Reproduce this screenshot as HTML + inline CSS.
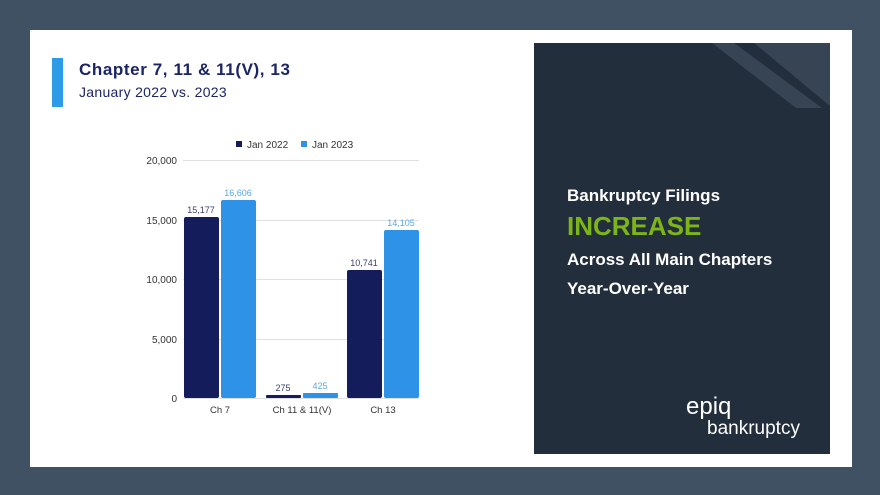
<!DOCTYPE html>
<html><head><style>
body{margin:0;width:880px;height:495px;background:#3f5163;overflow:hidden;font-family:"Liberation Sans",sans-serif;position:relative}
.card{position:absolute;left:30px;top:30px;width:822px;height:437px;background:#fff}
.panel{position:absolute;left:534px;top:43px;width:296px;height:411px;background:#232e3c;overflow:hidden}
.t{position:absolute;color:#fff;font-weight:bold}
</style></head><body>
<div class="card"></div>
<div style="position:absolute;left:52px;top:58px;width:11px;height:49px;background:#2e9be6"></div>
<div style="position:absolute;left:79px;top:60px;font-size:17px;font-weight:bold;color:#1b2466;letter-spacing:0.6px">Chapter 7, 11 &amp; 11(V), 13</div>
<div style="position:absolute;left:79px;top:84px;font-size:14px;color:#1b2466;letter-spacing:0.3px">January 2022 vs. 2023</div>
<svg style="position:absolute;left:0;top:0" width="534" height="495" font-family="Liberation Sans, sans-serif">
<rect x="236" y="141" width="6" height="6" fill="#141c5c"/><text x="247" y="148" font-size="10" fill="#333">Jan 2022</text>
<rect x="301" y="141" width="6" height="6" fill="#2e93e6"/><text x="312" y="148" font-size="10" fill="#333">Jan 2023</text>
<g stroke="#e0e0e0" stroke-width="1">
<line x1="183" x2="419" y1="160.5" y2="160.5"/><line x1="183" x2="419" y1="220.5" y2="220.5"/><line x1="183" x2="419" y1="279.5" y2="279.5"/><line x1="183" x2="419" y1="339.5" y2="339.5"/><line x1="183" x2="419" y1="398.5" y2="398.5"/></g>
<g font-size="10" fill="#333" text-anchor="end">
<text x="177" y="164">20,000</text><text x="177" y="224">15,000</text><text x="177" y="283">10,000</text><text x="177" y="343">5,000</text><text x="177" y="402">0</text></g>
<g fill="#141c5c"><rect x="184" y="217" width="35" height="181" rx="2"/><rect x="266" y="395" width="35" height="3" rx="1"/><rect x="347" y="270" width="35" height="128" rx="2"/></g>
<g fill="#2e93e6"><rect x="221" y="200" width="35" height="198" rx="2"/><rect x="303" y="393" width="35" height="5" rx="1"/><rect x="384" y="230" width="35" height="168" rx="2"/></g>
<g font-size="9" text-anchor="middle">
<text x="201" y="213" fill="#3a4270">15,177</text><text x="238" y="196" fill="#5aa8ea">16,606</text>
<text x="283" y="391" fill="#3a4270">275</text><text x="320" y="389" fill="#5aa8ea">425</text>
<text x="364" y="266" fill="#3a4270">10,741</text><text x="401" y="226" fill="#5aa8ea">14,105</text></g>
<g font-size="9.5" fill="#333" text-anchor="middle"><text x="220" y="413">Ch 7</text><text x="302" y="413">Ch 11 &amp; 11(V)</text><text x="383" y="413">Ch 13</text></g>
</svg>
<div class="panel">
<svg width="296" height="411" style="position:absolute;left:0;top:0">
<polygon points="178,0 296,0 296,65 262,65" fill="#364453"/>
<polygon points="200,0 220,0 296,63 296,65 288,65" fill="#232e3c"/>
</svg>
</div>
<div class="t" style="left:567px;top:186px;font-size:17px">Bankruptcy Filings</div>
<div class="t" style="left:567px;top:211px;font-size:26px;color:#7cb518">INCREASE</div>
<div class="t" style="left:567px;top:250px;font-size:17px">Across All Main Chapters</div>
<div class="t" style="left:567px;top:279px;font-size:17px">Year-Over-Year</div>
<div style="position:absolute;left:686px;top:396px;color:#fff;font-size:24px;line-height:22px">epiq</div>
<div style="position:absolute;left:707px;top:420px;color:#fff;font-size:19px;line-height:18px">bankruptcy</div>
</body></html>
